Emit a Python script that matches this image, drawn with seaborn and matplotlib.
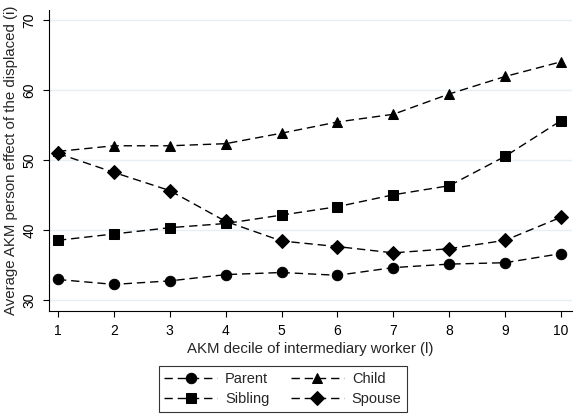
import matplotlib
matplotlib.use("Agg")
import matplotlib.pyplot as plt
import seaborn as sns
import pandas as pd

deciles = [1, 2, 3, 4, 5, 6, 7, 8, 9, 10]
parent = [32.9, 32.2, 32.7, 33.6, 33.9, 33.5, 34.6, 35.1, 35.3, 36.6]
child = [51.2, 52.0, 52.0, 52.3, 53.8, 55.4, 56.5, 59.4, 61.9, 64.0]
sibling = [38.5, 39.4, 40.3, 40.9, 42.1, 43.3, 45.0, 46.3, 50.5, 55.6]
spouse = [50.9, 48.2, 45.6, 41.2, 38.4, 37.6, 36.7, 37.3, 38.5, 41.8]
series_names = ["Parent", "Child", "Sibling", "Spouse"]
yticks = [30, 40, 50, 60, 70]

rows = []
for name, vals in zip(series_names, [parent, child, sibling, spouse]):
    for d, v in zip(deciles, vals):
        rows.append({"decile": d, "value": v, "group": name})
df = pd.DataFrame(rows)

sns.set_style("white")
plt.rcParams["font.family"] = ["Liberation Sans", "DejaVu Sans"]

fig = plt.figure(figsize=(5.74, 4.15), dpi=100)
ax = fig.add_axes([0.0854, 0.2506, 0.9116, 0.7254])

markers = {"Parent": "o", "Child": "^", "Sibling": "s", "Spouse": "D"}
msizes = {"Parent": 7.5, "Child": 7.5, "Sibling": 7, "Spouse": 7}
for name in series_names:
    sub = df[df["group"] == name]
    sns.lineplot(data=sub, x="decile", y="value", ax=ax, color="black",
                 marker=markers[name], markersize=msizes[name],
                 linewidth=1.0, label=name, markeredgecolor="black",
                 markerfacecolor="black")
for line in ax.get_lines():
    line.set_linestyle((0, (6, 3.5)))

ax.set_xlim(0.84, 10.2)
ax.set_ylim(28.4, 71.4)
ax.set_xticks(deciles)
ax.set_yticks(yticks)
ax.set_yticklabels([str(t) for t in yticks], rotation=90, va="center")
ax.grid(axis="y", color="#e6eff1", linewidth=1.0)
ax.set_axisbelow(True)
for s in ["top", "right"]:
    ax.spines[s].set_visible(False)
for s in ["left", "bottom"]:
    ax.spines[s].set_color("black")
    ax.spines[s].set_linewidth(0.8)
ax.tick_params(axis="both", direction="out", length=4, width=0.8, color="black",
               labelsize=10, labelcolor="black", pad=5, left=True, bottom=True)
ax.set_xlabel("AKM decile of intermediary worker (l)", fontsize=10.8, labelpad=3)
ax.set_ylabel("Average AKM person effect of the displaced (i)", fontsize=10.8, labelpad=3)

handles, labels = ax.get_legend_handles_labels()
if ax.legend_:
    ax.legend_.remove()
order = ["Parent", "Sibling", "Child", "Spouse"]
hmap = dict(zip(labels, handles))
leg = fig.legend([hmap[o] for o in order], order, ncol=2, loc="upper center",
                 bbox_to_anchor=(0.493, 1 - 359 / 415), frameon=True,
                 fancybox=False, edgecolor="black", fontsize=10.5,
                 handlelength=3.6, columnspacing=1.5, borderpad=0.38,
                 labelspacing=0.42, handletextpad=0.55)
leg.get_frame().set_linewidth(0.8)

fig.savefig("out.png", dpi=100, facecolor="white")
